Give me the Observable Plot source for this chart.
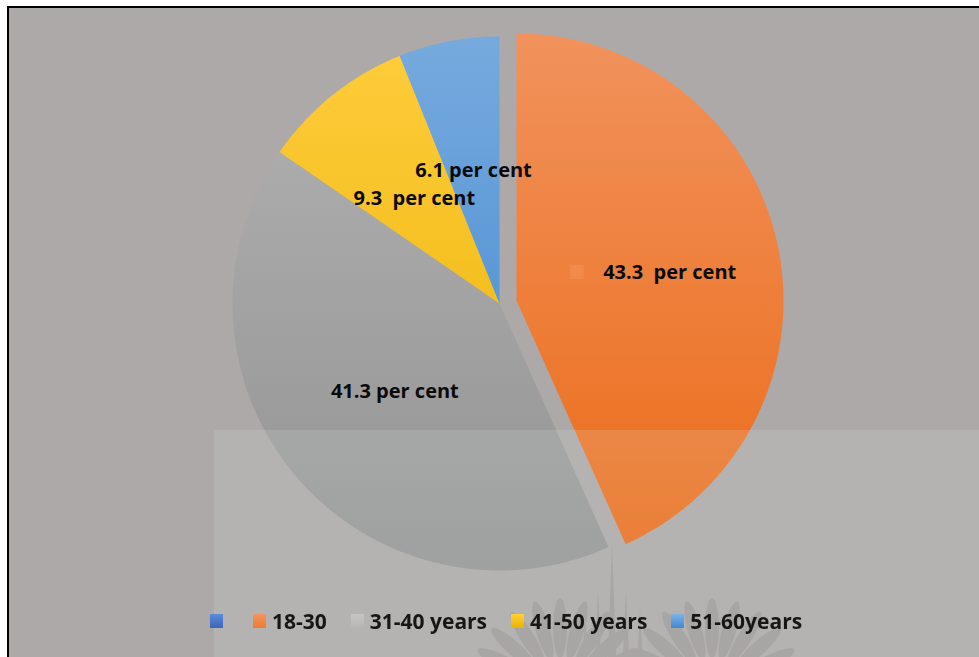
<!DOCTYPE html>
<html>
<head>
<meta charset="utf-8">
<script src="https://cdn.jsdelivr.net/npm/d3@7"></script>
<script src="https://cdn.jsdelivr.net/npm/@observablehq/plot@0.6"></script>
<style>
  html, body { margin: 0; padding: 0; background: #fff; }
  body { width: 979px; height: 657px; overflow: hidden; position: relative; font-family: "Open Sans", Lato, sans-serif; }
  #frame { position: absolute; left: 7px; top: 6px; width: 1000px; height: 700px; border: 2px solid #000; background: #ADA9A8; box-sizing: border-box; }
  #chart { position: absolute; left: 0; top: 0; }
  #overlay { position: absolute; left: 214px; top: 430px; width: 800px; height: 300px; background: rgba(226,242,235,0.15); }
  #wm { position: absolute; left: 0; top: 0; }
  #legend { position: absolute; left: 210px; top: 607px; display: flex; align-items: center; gap: 24px; font-weight: 700; font-size: 21px; color: #161616; white-space: pre; letter-spacing: 0; }
  #legend .item { display: flex; align-items: center; gap: 6px; }
  #legend .sw { width: 13px; height: 14px; }
</style>
</head>
<body>
<div id="frame"></div>
<div id="chart"></div>
<div id="overlay"></div>
<svg id="wm" width="979" height="657"></svg>
<div id="legend"></div>
<script>
// ---- data ----
const categories = ["18-30", "31-40 years", "41-50 years", "51-60years"];
const shares = [43.3, 41.3, 9.3, 6.1];
const dataLabels = ["43.3\u00a0 per cent", "41.3 per cent", "9.3\u00a0 per cent", "6.1 per cent"];
const legendLabels = ["", "18-30", "31-40 years", "41-50 years", "51-60years"];
const exploded = [true, false, false, false];

// ---- layout / style ----
const W = 979, H = 657;
const CX = 499, CY = 303, R = 267;
const EXPLODE = {dx: 17, dy: -3};
const LABEL_RADIUS = 0.51;
const sliceGradients = [
  ["#F1925C", "#EB6A16"],
  ["#B2B2B2", "#939393"],
  ["#FFCC3C", "#E8B200"],
  ["#76AADE", "#3C84CE"]
];
const legendSwatches = [
  ["#5B8BDA", "#3A66BA"],
  ["#F4945E", "#EE7A35"],
  ["#C6C6C6", "#B5B5B5"],
  ["#FFD034", "#E8B400"],
  ["#7DB3E6", "#3F88D0"]
];
const labelFont = {fill: "#0a0a0a", fontSize: 20, fontWeight: "bold", fontFamily: "Open Sans", textAnchor: "middle", dy: 1};

// ---- geometry from data ----
const arcs = d3.pie().sort(null).value(d => d)(shares);
const slices = arcs.map((a, i) => {
  const cx = CX + (exploded[i] ? EXPLODE.dx : 0);
  const cy = CY + (exploded[i] ? EXPLODE.dy : 0);
  const ring = [[cx, cy]];
  const n = Math.max(8, Math.ceil((a.endAngle - a.startAngle) / (Math.PI / 360)));
  for (let k = 0; k <= n; k++) {
    const t = a.startAngle + (a.endAngle - a.startAngle) * k / n;
    ring.push([cx + R * Math.sin(t), cy - R * Math.cos(t)]);
  }
  ring.push([cx, cy]);
  const mid = (a.startAngle + a.endAngle) / 2;
  return {
    category: categories[i],
    label: dataLabels[i],
    key: exploded[i],
    lx: cx + LABEL_RADIUS * R * Math.sin(mid),
    ly: cy - LABEL_RADIUS * R * Math.cos(mid),
    feature: {type: "Feature", properties: {category: categories[i]}, geometry: {type: "Polygon", coordinates: [ring]}}
  };
});

const chart = Plot.plot({
  width: W,
  height: H,
  margin: 0,
  style: {background: "transparent", overflow: "visible"},
  projection: {type: "identity", domain: {type: "MultiPoint", coordinates: [[0, 0], [W, H]]}},
  color: {domain: categories, range: categories.map((c, i) => `url(#slice${i})`)},
  marks: [
    Plot.geo(slices.map(s => s.feature), {fill: d => d.properties.category, stroke: "none"}),
    Plot.text(slices.filter(s => !s.key), {x: "lx", y: "ly", text: "label", ...labelFont}),
    Plot.text(slices.filter(s => s.key), {x: "lx", y: "ly", text: "label", ...labelFont, dx: 20}),
    Plot.dot(slices.filter(s => s.key), {x: "lx", y: "ly", dx: -73, dy: 0, symbol: "square", r: 7.9, fill: "url(#keygrad)", stroke: "none"})
  ]
});

// gradient defs
const ns = "http://www.w3.org/2000/svg";
const defs = document.createElementNS(ns, "defs");
function addGrad(id, c0, c1, y1, y2) {
  const g = document.createElementNS(ns, "linearGradient");
  g.setAttribute("id", id);
  g.setAttribute("gradientUnits", "userSpaceOnUse");
  g.setAttribute("x1", 0); g.setAttribute("x2", 0);
  g.setAttribute("y1", y1); g.setAttribute("y2", y2);
  [[0, c0], [1, c1]].forEach(([o, c]) => {
    const s = document.createElementNS(ns, "stop");
    s.setAttribute("offset", o); s.setAttribute("stop-color", c);
    g.appendChild(s);
  });
  defs.appendChild(g);
}
sliceGradients.forEach((g, i) => addGrad(`slice${i}`, g[0], g[1], CY - R, CY + R));
const keyS = slices.find(s => s.key);
if (keyS) addGrad("keygrad", "#F28A4C", "#EB7028", keyS.ly - 8, keyS.ly + 8);
chart.insertBefore(defs, chart.firstChild);
document.getElementById("chart").appendChild(chart);

// faint background watermark (decoration)
const wm = d3.select("#wm").append("g").attr("fill", "#A5A1A0").attr("opacity", 0.75);
[[560, 690], [712, 690]].forEach(([fx, fy]) => {
  for (let a = -80; a <= 80; a += 16) {
    wm.append("ellipse").attr("cx", fx).attr("cy", fy - 62).attr("rx", 7).attr("ry", 30)
      .attr("transform", `rotate(${a} ${fx} ${fy})`);
  }
});
[[612, 545, 4], [598, 590, 3], [626, 590, 3], [585, 610, 2.5], [640, 610, 2.5]].forEach(([x, y, w]) => {
  wm.append("path").attr("d", `M${x},${y} L${x + w},${H} L${x - w},${H} Z`);
});

// legend
const legend = document.getElementById("legend");
legendLabels.forEach((lab, i) => {
  const item = document.createElement("div");
  item.className = "item";
  const sw = document.createElement("div");
  sw.className = "sw";
  sw.style.background = `linear-gradient(${legendSwatches[i][0]}, ${legendSwatches[i][1]})`;
  item.appendChild(sw);
  const t = document.createElement("span");
  t.textContent = lab;
  item.appendChild(t);
  legend.appendChild(item);
});
</script>
</body>
</html>
